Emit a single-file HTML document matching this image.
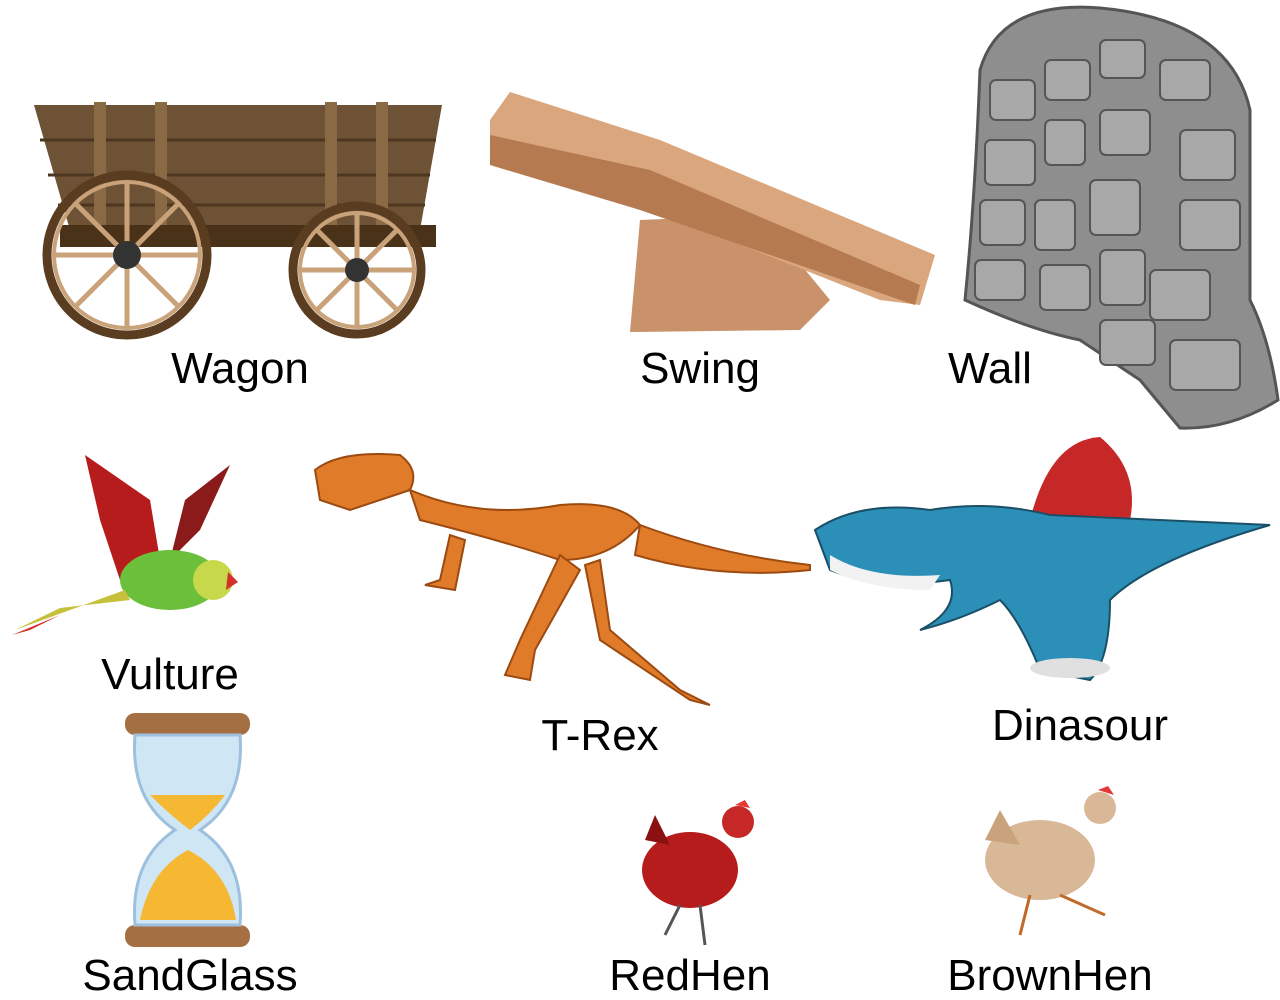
<!DOCTYPE html>
<html><head><meta charset="utf-8"><style>
html,body{margin:0;padding:0;background:#fff;}
svg{display:block;}
text{font-family:"Liberation Sans","DejaVu Sans",sans-serif;font-size:44px;fill:#000;}
</style></head><body>
<svg width="1280" height="1000" viewBox="0 0 1280 1000">
<g>
 <polygon points="34,105 442,105 420,230 70,230" fill="#6e5236"/>
 <g stroke="#4e3720" stroke-width="3"><line x1="40" y1="140" x2="436" y2="140"/><line x1="48" y1="175" x2="430" y2="175"/><line x1="58" y1="205" x2="425" y2="205"/></g>
 <g fill="#8a6a45"><rect x="94" y="102" width="12" height="128"/><rect x="155" y="102" width="12" height="128"/><rect x="325" y="102" width="12" height="128"/><rect x="376" y="102" width="12" height="128"/></g>
 <rect x="60" y="225" width="376" height="22" fill="#4a3219"/>
 <g fill="none" stroke="#5a3d20" stroke-width="9"><circle cx="127" cy="255" r="80"/><circle cx="357" cy="270" r="64"/></g>
 <g fill="none" stroke="#c9a27a" stroke-width="4"><circle cx="127" cy="255" r="73"/><circle cx="357" cy="270" r="57"/></g>
 <g stroke="#c9a27a" stroke-width="5">
  <line x1="127" y1="182" x2="127" y2="328"/><line x1="54" y1="255" x2="200" y2="255"/><line x1="75" y1="203" x2="179" y2="307"/><line x1="179" y1="203" x2="75" y2="307"/>
  <line x1="357" y1="213" x2="357" y2="327"/><line x1="300" y1="270" x2="414" y2="270"/><line x1="317" y1="230" x2="397" y2="310"/><line x1="397" y1="230" x2="317" y2="310"/>
 </g>
 <circle cx="127" cy="255" r="14" fill="#333"/><circle cx="357" cy="270" r="12" fill="#333"/>
</g>
<g>
 <polygon points="640,220 760,215 830,300 800,330 630,332" fill="#c9926a"/>
 <polygon points="510,92 660,140 935,255 920,305 880,300 640,205 490,160 490,120" fill="#d9a67e"/>
 <polygon points="490,135 650,170 920,285 915,305 640,210 490,165" fill="#b57a4f"/>
</g>
<g>
 <path d="M980,70 Q1000,0 1100,8 Q1230,20 1250,110 L1250,300 Q1270,340 1278,400 Q1230,430 1180,428 L1140,380 L1080,340 Q1030,330 965,300 Q975,200 980,70 Z" fill="#8e8e8e" stroke="#555" stroke-width="3"/>
 <g fill="#a8a8a8" stroke="#555" stroke-width="2">
  <rect x="990" y="80" width="45" height="40" rx="6"/><rect x="1045" y="60" width="45" height="40" rx="6"/><rect x="1100" y="40" width="45" height="38" rx="6"/><rect x="1160" y="60" width="50" height="40" rx="6"/>
  <rect x="985" y="140" width="50" height="45" rx="6"/><rect x="1045" y="120" width="40" height="45" rx="6"/><rect x="1100" y="110" width="50" height="45" rx="6"/><rect x="1180" y="130" width="55" height="50" rx="6"/>
  <rect x="980" y="200" width="45" height="45" rx="6"/><rect x="1035" y="200" width="40" height="50" rx="6"/><rect x="1090" y="180" width="50" height="55" rx="6"/><rect x="1180" y="200" width="60" height="50" rx="6"/>
  <rect x="975" y="260" width="50" height="40" rx="6"/><rect x="1040" y="265" width="50" height="45" rx="6"/><rect x="1100" y="250" width="45" height="55" rx="6"/><rect x="1150" y="270" width="60" height="50" rx="6"/>
  <rect x="1100" y="320" width="55" height="45" rx="6"/><rect x="1170" y="340" width="70" height="50" rx="6"/>
 </g>
</g>
<g>
 <polygon points="85,455 150,500 160,560 120,580 100,520" fill="#b71c1c"/>
 <polygon points="230,465 200,530 170,560 185,500" fill="#8b1a1a"/>
 <ellipse cx="170" cy="580" rx="50" ry="30" fill="#6cbf3a"/>
 <circle cx="213" cy="580" r="20" fill="#c7d94a"/>
 <polygon points="228,572 238,582 226,590" fill="#d32f2f"/>
 <polygon points="125,590 15,630 60,608 130,600" fill="#c6c03a"/>
 <polygon points="60,615 12,635 30,630" fill="#d32f2f"/>
</g>
<g fill="#e07b2a" stroke="#9c4a10" stroke-width="2">
 <path d="M315,470 Q340,450 400,455 Q420,470 410,490 L350,510 L320,500 Z"/>
 <path d="M410,490 Q480,520 560,505 Q620,500 640,525 Q610,560 560,560 Q500,540 420,520 Z"/>
 <path d="M640,525 Q720,555 810,565 L810,570 Q720,580 635,555 Z"/>
 <path d="M560,555 L520,640 L505,675 L530,680 L535,650 L580,570 Z"/>
 <path d="M600,560 L610,630 L680,690 L710,705 L690,700 L600,640 L585,565 Z"/>
 <path d="M450,535 L440,580 L425,585 L455,590 L465,540 Z"/>
</g>
<g>
 <path d="M1030,520 Q1050,440 1100,437 Q1140,470 1130,520 Z" fill="#c62828"/>
 <path d="M815,530 Q860,500 930,510 Q990,500 1050,515 Q1150,520 1270,525 Q1150,560 1110,600 Q1110,660 1090,680 L1040,670 Q1020,620 1000,600 Q960,620 920,630 Q960,610 950,580 Q880,590 830,570 Z" fill="#2b8fb8" stroke="#1a4f66" stroke-width="2"/>
 <path d="M830,555 Q870,580 940,575 L930,590 Q870,590 830,570 Z" fill="#f2f2f2"/>
 <ellipse cx="1070" cy="668" rx="40" ry="10" fill="#e0e0e0"/>
</g>
<g>
 <rect x="125" y="713" width="125" height="22" rx="10" fill="#a56f44"/>
 <rect x="125" y="925" width="125" height="22" rx="10" fill="#a56f44"/>
 <path d="M135,735 L240,735 Q245,800 200,830 Q245,860 240,925 L135,925 Q130,860 175,830 Q130,800 135,735 Z" fill="#cfe6f5" stroke="#9cc0dd" stroke-width="3"/>
 <path d="M150,795 L225,795 Q210,815 190,830 Q170,815 150,795 Z" fill="#f6b733"/>
 <path d="M140,920 Q150,870 188,850 Q228,870 236,920 Z" fill="#f6b733"/>
</g>
<g>
 <ellipse cx="690" cy="870" rx="48" ry="38" fill="#b71c1c"/>
 <path d="M645,840 L655,815 L670,845 Z" fill="#8b1111"/>
 <circle cx="738" cy="822" r="16" fill="#c62828"/>
 <path d="M735,805 L745,800 L750,808 Z" fill="#e53935"/>
 <g stroke="#555" stroke-width="3"><line x1="680" y1="905" x2="665" y2="935"/><line x1="700" y1="905" x2="705" y2="945"/></g>
</g>
<g>
 <ellipse cx="1040" cy="860" rx="55" ry="40" fill="#d8b896"/>
 <path d="M985,840 L1000,810 L1020,845 Z" fill="#c9a37c"/>
 <circle cx="1100" cy="808" r="16" fill="#d8b896"/>
 <path d="M1098,790 L1108,786 L1114,795 Z" fill="#e53935"/>
 <g stroke="#c06a2a" stroke-width="3"><line x1="1030" y1="895" x2="1020" y2="935"/><line x1="1060" y1="895" x2="1105" y2="915"/></g>
</g>
<text x="240" y="383" text-anchor="middle">Wagon</text>
<text x="700" y="383" text-anchor="middle">Swing</text>
<text x="990" y="383" text-anchor="middle">Wall</text>
<text x="170" y="689" text-anchor="middle">Vulture</text>
<text x="600" y="750" text-anchor="middle">T-Rex</text>
<text x="1080" y="740" text-anchor="middle">Dinasour</text>
<text x="190" y="990" text-anchor="middle">SandGlass</text>
<text x="690" y="990" text-anchor="middle">RedHen</text>
<text x="1050" y="990" text-anchor="middle">BrownHen</text>
</svg>
</body></html>
